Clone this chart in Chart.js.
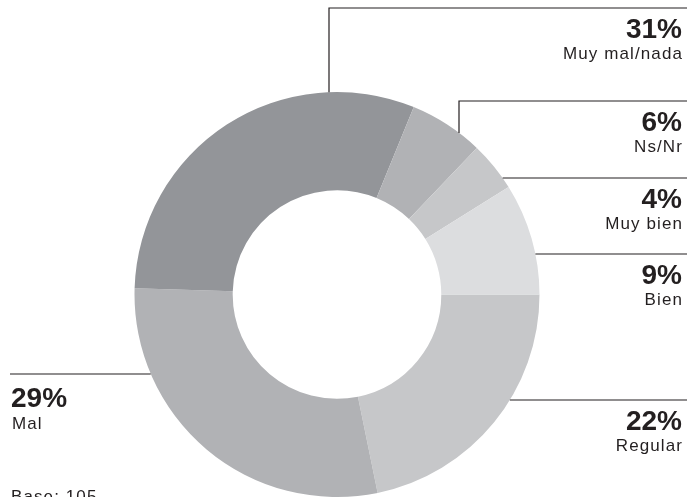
<!DOCTYPE html>
<html>
<head>
<meta charset="utf-8">
<script src="https://cdn.jsdelivr.net/npm/chart.js@4"></script>
<style>
  html, body { margin: 0; padding: 0; background: #fff; }
  #wrap { width: 689px; height: 497px; position: relative; }
</style>
</head>
<body>
<div id="wrap"><canvas id="donut"></canvas></div>
<script>
// Datos del gráfico
const categorias = ['Regular', 'Mal', 'Muy mal/nada', 'Ns/Nr', 'Muy bien', 'Bien'];
const porcentajes = [22, 29, 31, 6, 4, 9];
const nota = 'Base: 105';

// Colores de cada porción
const colores = ['#c6c7c9', '#b1b2b5', '#939599', '#b1b2b5', '#c6c7c9', '#dcdddf'];

// Líneas guía: tipo 'h' = horizontal a la altura y, 'v' = vertical en x y luego horizontal en y
const guias = [
    { idx: 0, tipo: 'h', y: 400, lado: 'der' },
    { idx: 1, tipo: 'h', y: 374, lado: 'izq' },
    { idx: 2, tipo: 'v', x: 329, y: 8, lado: 'der' },
    { idx: 3, tipo: 'v', x: 459, y: 101, lado: 'der' },
    { idx: 4, tipo: 'h', y: 178, lado: 'der' },
    { idx: 5, tipo: 'h', y: 254, lado: 'der' }
];

const tinta = '#231f20';

const etiquetasPlugin = {
    id: 'etiquetas',
    afterDraw(chart) {
        const ctx = chart.ctx;
        const arco = chart.getDatasetMeta(0).data[0];
        const cx = arco.x, cy = arco.y, r = arco.outerRadius;
        const bordeDer = 687, bordeIzq = 10;

        ctx.save();
        ctx.strokeStyle = tinta;
        ctx.lineWidth = 1.2;
        ctx.fillStyle = tinta;

        guias.forEach(g => {
            ctx.beginPath();
            if (g.tipo === 'h') {
                const dx = Math.sqrt(r * r - (g.y - cy) * (g.y - cy));
                if (g.lado === 'der') {
                    ctx.moveTo(cx + dx, g.y);
                    ctx.lineTo(bordeDer, g.y);
                } else {
                    ctx.moveTo(cx - dx, g.y);
                    ctx.lineTo(bordeIzq, g.y);
                }
            } else {
                const dy = Math.sqrt(r * r - (g.x - cx) * (g.x - cx));
                ctx.moveTo(g.x, cy - dy);
                ctx.lineTo(g.x, g.y);
                ctx.lineTo(bordeDer, g.y);
            }
            ctx.stroke();

            // Textos
            const pct = porcentajes[g.idx] + '%';
            const nombre = categorias[g.idx];
            ctx.textBaseline = 'alphabetic';
            if (g.lado === 'der') {
                ctx.textAlign = 'right';
                ctx.letterSpacing = '0px';
                ctx.font = 'bold 28px "Liberation Sans", Arial, sans-serif';
                ctx.fillText(pct, 682, g.y + 30);
                ctx.letterSpacing = '1.1px';
                ctx.font = '17px "Liberation Sans", Arial, sans-serif';
                ctx.fillText(nombre, 683, g.y + 51);
            } else {
                ctx.textAlign = 'left';
                ctx.letterSpacing = '0px';
                ctx.font = 'bold 28px "Liberation Sans", Arial, sans-serif';
                ctx.fillText(pct, 11, g.y + 33);
                ctx.letterSpacing = '1.1px';
                ctx.font = '17px "Liberation Sans", Arial, sans-serif';
                ctx.fillText(nombre, 12, g.y + 55);
            }
        });

        ctx.textAlign = 'left';
        ctx.letterSpacing = '1.1px';
        ctx.font = '17px "Liberation Sans", Arial, sans-serif';
        ctx.fillText(nota, 11, 502);
        ctx.restore();
    }
};

const ctx = document.getElementById('donut').getContext('2d');
new Chart(ctx, {
    type: 'doughnut',
    data: {
        labels: categorias,
        datasets: [{
            data: porcentajes,
            backgroundColor: colores,
            borderWidth: 0
        }]
    },
    options: {
        responsive: true,
        maintainAspectRatio: false,
        animation: false,
        rotation: 90,
        cutout: '51.5%',
        layout: {
            padding: { left: 134, right: 149, top: 92, bottom: -1 }
        },
        plugins: {
            legend: { display: false },
            tooltip: { enabled: false }
        }
    },
    plugins: [etiquetasPlugin]
});
</script>
</body>
</html>
